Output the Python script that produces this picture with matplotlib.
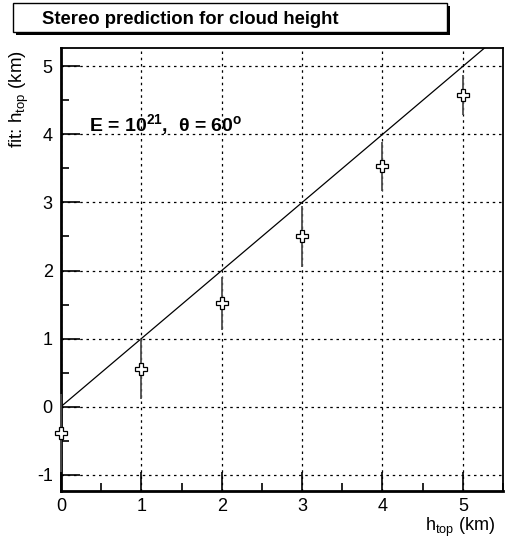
import matplotlib
matplotlib.use('Agg')
import matplotlib.pyplot as plt
from matplotlib.patches import Rectangle
from matplotlib.ticker import MultipleLocator
import numpy as np

plt.rcParams['font.family'] = ['Liberation Sans', 'DejaVu Sans']
plt.rcParams['mathtext.fontset'] = 'custom'
plt.rcParams['mathtext.rm'] = 'Liberation Sans'
plt.rcParams['mathtext.bf'] = 'Liberation Sans:bold'
plt.rcParams['axes.unicode_minus'] = False

# true cloud top height vs stereo fit
h_true = np.array([0, 1, 2, 3, 4, 5])
h_fit = np.array([-0.39, 0.55, 1.52, 2.50, 3.53, 4.58])
h_err = np.array([0.57, 0.44, 0.39, 0.45, 0.36, 0.30])
line_x = np.array([0, 5.5])

W, H = 510, 542
fig = plt.figure(figsize = (W/100, H/100), dpi = 100)
ax = fig.add_axes([61/W, 1 - 491/H, 442/W, 443/H])

ax.plot(line_x, line_x, color = 'black', lw = 0.9, zorder = 3)
ax.errorbar(h_true, h_fit, yerr = h_err, fmt = 'none', ecolor = '0.3', elinewidth = 1.3, zorder = 4, clip_on = False)
ax.plot(h_true, h_fit, ls = 'none', marker = 'P', ms = 9, mfc = 'white', mec = 'black', mew = 0.9, zorder = 5, clip_on = False)

ax.set_xlim(0, 5.5)
ax.set_ylim(-1.24, 5.27)
ax.xaxis.set_major_locator(MultipleLocator(1))
ax.xaxis.set_minor_locator(MultipleLocator(0.5))
ax.yaxis.set_major_locator(MultipleLocator(1))
ax.yaxis.set_minor_locator(MultipleLocator(0.5))
ax.tick_params(which = 'major', direction = 'in', length = 14, width = 1.2, labelsize = 13, pad = 6)
ax.tick_params(axis = 'x', which = 'major', pad = 5)
ax.tick_params(which = 'minor', direction = 'in', length = 6, width = 1.2)
ax.grid(True, which = 'major', color = 'black', ls = (0, (2, 3)), lw = 0.9)
for side in ['left', 'bottom']:
	ax.spines[side].set_linewidth(2)
for side in ['top', 'right']:
	ax.spines[side].set_linewidth(1.3)

ax.text(0.35, 4.14, r'E = 10$^{\mathbf{21}}$,  θ = 60$^{\mathbf{o}}$', fontsize = 14, fontweight = 'bold', va = 'center', zorder = 6)

fig.text(495/W, 1 - 531/H, r'h$_{\mathrm{top}}$ (km)', fontsize = 13, ha = 'right', va = 'baseline')
fig.text(19/W, 1 - 50/H, r'fit: h$_{\mathrm{top}}$ (km)', fontsize = 13.5, ha = 'center', va = 'top', rotation = 90)

# title box with shadow
fig.patches.append(Rectangle((16/W, 1 - 35/H), 434/W, 29/H, transform = fig.transFigure, facecolor = 'black', edgecolor = 'black', lw = 0))
fig.patches.append(Rectangle((13/W, 1 - 32/H), 434/W, 29/H, transform = fig.transFigure, facecolor = 'white', edgecolor = 'black', lw = 1))
fig.text(42/W, 1 - 19/H, 'Stereo prediction for cloud height', fontsize = 13.3, fontweight = 'bold', va = 'center')

fig.savefig('out.png', dpi = 100, facecolor = 'white')
